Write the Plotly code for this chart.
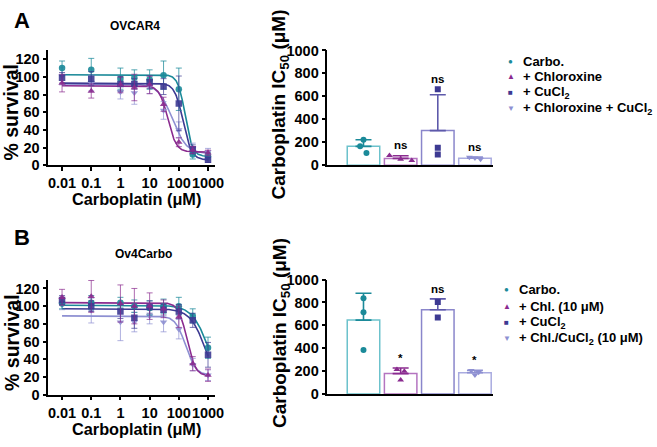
import numpy as np
import plotly.graph_objects as go

W, H = 657, 447
FONT = "Liberation Sans, Arial, sans-serif"

# ---------------- data ----------------
conc = [0.01, 0.1, 1, 3, 10, 30, 100, 300, 1000]
series_names = ["Carbo.", "+ Chloroxine", "+ CuCl2", "+ Chloroxine + CuCl2"]

# Panel A (OVCAR4) % survival, mean and SD
A_carbo = [110, 108, 98, 99, 97, 102, 86, 12, 10]
A_carbo_sd = [8, 13, 12, 9, 11, 16, 24, 5, 4]
A_chl = [93, 84, 91, 88, 91, 69, 26, 17, 14]
A_chl_sd = [10, 8, 9, 15, 10, 8, 5, 4, 3]
A_cu = [99, 98, 92, 92, 94, 89, 70, 18, 6]
A_cu_sd = [6, 8, 8, 6, 7, 9, 31, 5, 3]
A_chlcu = [101, 93, 83, 82, 89, 62, 40, 19, 15]
A_chlcu_sd = [10, 9, 8, 13, 8, 10, 9, 6, 4]

# Panel B (Ov4Carbo)
B_carbo = [103, 104, 104, 100, 98, 100, 100, 89, 53]
B_carbo_sd = [6, 8, 6, 7, 8, 8, 10, 8, 12]
B_chl = [110, 111, 103, 100, 100, 97, 88, 35, 22]
B_chl_sd = [9, 18, 21, 20, 15, 10, 12, 8, 7]
B_cu = [107, 100, 94, 87, 99, 96, 94, 84, 45]
B_cu_sd = [5, 6, 8, 12, 7, 6, 8, 8, 14]
B_chlcu = [102, 95, 82, 82, 89, 82, 74, 34, 22]
B_chlcu_sd = [6, 14, 21, 11, 9, 11, 11, 7, 6]

# fitted 4PL parameters: top, bottom, IC50, hill
A_fit_top = [102.5, 90, 93, 92]
A_fit_bottom = [10, 15, 6, 13]
A_fit_ic50 = [165, 42, 140, 60]
A_fit_hill = [3.5, 3.0, 3.0, 1.8]
B_fit_top = [101, 104, 97, 89]
B_fit_bottom = [0, 21, 0, 22]
B_fit_ic50 = [1100, 190, 880, 170]
B_fit_hill = [1.5, 3.0, 1.6, 2.5]

# IC50 replicates (µM)
A_ic50_reps = [[221, 165, 106], [85, 52, 40], [661, 151, 92], [70, 62, 52]]
B_ic50_reps = [[838, 715, 385], [213, 199, 123], [804, 669], [205, 190, 165]]
A_sig = ["", "ns", "ns", "ns"]
B_sig = ["", "*", "ns", "*"]

A_legend = ["Carbo.", "+ Chloroxine", "+ CuCl<sub>2</sub>", "+ Chloroxine + CuCl<sub>2</sub>"]
B_legend = ["Carbo.", "+ Chl. (10 \u03bcM)", "+ CuCl<sub>2</sub>", "+ Chl./CuCl<sub>2</sub> (10 \u03bcM)"]

x_tickvals = [0.01, 0.1, 1, 10, 100, 1000]
x_ticktext = ["0.01", "0.1", "1", "10", "100", "1000"]

# ---------------- style ----------------
dark = ["#1b8a99", "#8a2b8f", "#3d3a92", "#8e90d2"]
outline = ["#6cc2cc", "#b474c0", "#8a86cb", "#a9abe0"]
errc = ["rgba(27,138,153,0.75)", "rgba(138,43,143,0.7)", "rgba(61,58,146,0.7)", "rgba(142,144,210,0.7)"]
symbols = ["circle", "triangle-up", "square", "triangle-down"]
glyphs = ["\u25cf", "\u25b2", "\u25a0", "\u25bc"]
jitter = {
    "A": [[0, -0.09, 0.08], [-0.3, 0, 0.3], [0, 0, 0], [-0.15, 0, 0.15]],
    "B": [[0, 0, 0], [-0.1, 0.1, 0], [0, 0], [-0.1, 0.1, 0]],
}


def px_x(p):
    return p / W


def px_y(p):
    return 1 - p / H


fig = go.Figure()

dose_sets = {
    "A": ([A_carbo, A_chl, A_cu, A_chlcu], [A_carbo_sd, A_chl_sd, A_cu_sd, A_chlcu_sd],
          A_fit_top, A_fit_bottom, A_fit_ic50, A_fit_hill, "x", "y"),
    "B": ([B_carbo, B_chl, B_cu, B_chlcu], [B_carbo_sd, B_chl_sd, B_cu_sd, B_chlcu_sd],
          B_fit_top, B_fit_bottom, B_fit_ic50, B_fit_hill, "x3", "y3"),
}

xs_curve = np.logspace(-2, 3, 300)
for key, (vals, sds, top, bot, ic, hill, xa, ya) in dose_sets.items():
    for i in [3, 0, 2, 1]:
        yc = bot[i] + (top[i] - bot[i]) / (1 + (xs_curve / ic[i]) ** hill[i])
        fig.add_trace(go.Scatter(x=xs_curve, y=yc, mode="lines", xaxis=xa, yaxis=ya,
                                 line=dict(color=dark[i], width=1.6), showlegend=False,
                                 hoverinfo="skip"))
    for i in [3, 0, 2, 1]:
        fig.add_trace(go.Scatter(x=conc, y=vals[i], mode="markers", xaxis=xa, yaxis=ya,
                                 marker=dict(symbol=symbols[i], size=6.5, color=dark[i],
                                             opacity=0.9),
                                 error_y=dict(type="data", array=sds[i], color=errc[i],
                                              thickness=1, width=3),
                                 showlegend=False, name=series_names[i]))

bar_sets = {"A": (A_ic50_reps, A_sig, "x2", "y2"), "B": (B_ic50_reps, B_sig, "x4", "y4")}
annotations = []
for key, (reps, sig, xa, ya) in bar_sets.items():
    for i, r in enumerate(reps):
        r = np.array(r, dtype=float)
        m = r.mean()
        sd = r.std(ddof=1)
        fig.add_trace(go.Bar(x=[i], y=[m], xaxis=xa, yaxis=ya, width=0.875,
                             marker=dict(color="white", line=dict(color=outline[i], width=1.5)),
                             error_y=dict(type="data", array=[sd], arrayminus=[0],
                                          color=dark[i] if i != 2 else "#5d59aa",
                                          thickness=1.6, width=8),
                             showlegend=False))
        fig.add_trace(go.Scatter(x=[i + j for j in jitter[key][i]], y=list(r), mode="markers",
                                 xaxis=xa, yaxis=ya,
                                 marker=dict(symbol=symbols[i], size=6, color=dark[i]),
                                 showlegend=False))
        if sig[i]:
            annotations.append(dict(x=i, y=max(r.max(), m + sd), xref=xa, yref=ya,
                                    text=sig[i], showarrow=False, yanchor="bottom", yshift=2,
                                    font=dict(family=FONT, size=11.5, color="black", weight="bold")))

axis_common = dict(showline=True, linecolor="black", linewidth=1.6, ticks="outside",
                   ticklen=4, tickwidth=1.6, tickcolor="black", showgrid=False, zeroline=False,
                   tickangle=0,
                   tickfont=dict(family=FONT, size=14.5, color="black", weight="bold"))

dose_x = [px_x(49), px_x(218)]
bar_x = [px_x(332), px_x(500)]
yA = [px_y(163), px_y(44)]
yB = [px_y(401), px_y(281.7)]
yBb = [px_y(400.3), px_y(281.7)]

fig.update_layout(
    width=W, height=H, margin=dict(l=0, r=0, t=0, b=0),
    paper_bgcolor="white", plot_bgcolor="white", barmode="overlay",
    xaxis=dict(domain=dose_x, type="log", range=[-2.47, 3.24], tickvals=x_tickvals,
               ticktext=x_ticktext, anchor="y", **axis_common),
    yaxis=dict(domain=yA, range=[0, 130], tickvals=[0, 20, 40, 60, 80, 100, 120],
               anchor="x", **axis_common),
    xaxis3=dict(domain=dose_x, type="log", range=[-2.47, 3.24], tickvals=x_tickvals,
                ticktext=x_ticktext, anchor="y3", **axis_common),
    yaxis3=dict(domain=yB, range=[0, 130], tickvals=[0, 20, 40, 60, 80, 100, 120],
                anchor="x3", **axis_common),
    xaxis2=dict(domain=bar_x, range=[-0.97, 3.49], anchor="y2", showline=True,
                linecolor="black", linewidth=1.6, showticklabels=False, ticks="",
                showgrid=False, zeroline=False),
    yaxis2=dict(domain=yA, range=[0, 1000], tickvals=[0, 200, 400, 600, 800, 1000],
                anchor="x2", **axis_common),
    xaxis4=dict(domain=bar_x, range=[-0.97, 3.49], anchor="y4", showline=True,
                linecolor="black", linewidth=1.6, showticklabels=False, ticks="",
                showgrid=False, zeroline=False),
    yaxis4=dict(domain=yBb, range=[0, 1000], tickvals=[0, 200, 400, 600, 800, 1000],
                anchor="x4", **axis_common),
)


def txt(x, y, text, size, angle=0, xanchor="center", color="black"):
    annotations.append(dict(x=px_x(x), y=px_y(y), xref="paper", yref="paper", text=text,
                            showarrow=False, xanchor=xanchor, yanchor="middle",
                            textangle=angle,
                            font=dict(family=FONT, size=size, color=color, weight="bold")))


# panel letters and titles
txt(22, 13, "A", 22)
txt(22, 238, "B", 22)
txt(137, 19, "OVCAR4", 12)
txt(145, 255, "Ov4Carbo", 12)
# axis titles
txt(138, 198, "Carboplatin (\u03bcM)", 16.3)
txt(138, 437, "Carboplatin (\u03bcM)", 16.3)
txt(11.5, 108, "% survival", 19.5, angle=-90)
txt(11.5, 347, "% survival", 19.5, angle=-90)
txt(284, 100, "Carboplatin IC<sub>50</sub> (\u03bcM)", 19, angle=-90)
txt(285, 337, "Carboplatin IC<sub>50</sub> (\u03bcM)", 19, angle=-90)

# legends
for k, lab in enumerate(A_legend):
    yy = 55 + 16.3 * k
    txt(518, yy, glyphs[k], 8, color=dark[k])
    txt(528, yy, lab, 13, xanchor="left")
for k, lab in enumerate(B_legend):
    yy = 292.3 + 16.8 * k
    txt(514, yy, glyphs[k], 8, color=dark[k])
    txt(524, yy, lab, 13, xanchor="left")

fig.update_layout(annotations=annotations)
fig.write_html("out.html", post_script="document.body.style.margin='0px';",
               config={"displayModeBar": False})
